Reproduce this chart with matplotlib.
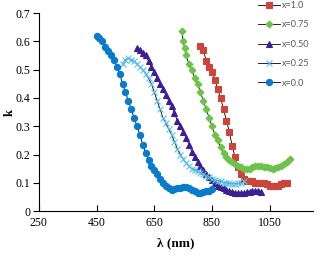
import matplotlib
matplotlib.use('Agg')
import matplotlib.pyplot as plt

# x = 0.0
wl_00 = [450, 460, 470, 480, 490, 500, 510, 520, 530, 540, 550, 560, 570, 580, 590,
         600, 610, 620, 630, 640, 650, 660, 670, 680, 690, 700, 710, 720, 730, 740,
         750, 760, 770, 780, 790, 800, 810, 820, 830, 840, 850]
k_00 = [0.62, 0.61, 0.60, 0.58, 0.565, 0.55, 0.535, 0.51, 0.485, 0.45, 0.42, 0.39, 0.36, 0.33, 0.30,
        0.27, 0.235, 0.205, 0.18, 0.16, 0.145, 0.13, 0.115, 0.10, 0.09, 0.08, 0.075, 0.078, 0.08, 0.082,
        0.085, 0.085, 0.083, 0.075, 0.07, 0.065, 0.065, 0.068, 0.07, 0.072, 0.078]

# x = 0.25
wl_25 = [540, 550, 560, 570, 580, 590, 600, 610, 620, 630, 640, 650, 660, 670, 680,
         690, 700, 710, 720, 730, 740, 750, 760, 770, 780, 790, 800, 810, 820, 830,
         840, 850, 860, 870, 880, 890, 900, 910, 920, 930, 940, 950, 960]
k_25 = [0.52, 0.535, 0.54, 0.535, 0.53, 0.52, 0.51, 0.50, 0.485, 0.47, 0.45, 0.42, 0.39, 0.36, 0.33,
        0.31, 0.29, 0.27, 0.245, 0.22, 0.20, 0.185, 0.17, 0.16, 0.15, 0.145, 0.14, 0.135, 0.13, 0.125,
        0.12, 0.115, 0.11, 0.108, 0.105, 0.10, 0.10, 0.098, 0.097, 0.097, 0.098, 0.10, 0.105]

# x = 0.50
wl_50 = [590, 600, 610, 620, 630, 640, 650, 660, 670, 680, 690, 700, 710, 720, 730,
         740, 750, 760, 770, 780, 790, 800, 810, 820, 830, 840, 850, 860, 870, 880,
         890, 900, 910, 920, 930, 940, 950, 960, 970, 980, 990, 1000, 1010, 1020]
k_50 = [0.575, 0.57, 0.56, 0.55, 0.53, 0.51, 0.49, 0.47, 0.45, 0.43, 0.41, 0.39, 0.37, 0.345, 0.32,
        0.30, 0.28, 0.26, 0.235, 0.21, 0.19, 0.175, 0.16, 0.145, 0.13, 0.12, 0.11, 0.10, 0.09, 0.085,
        0.08, 0.075, 0.07, 0.067, 0.065, 0.063, 0.063, 0.064, 0.066, 0.068, 0.07, 0.072, 0.07, 0.068]

# x = 0.75
wl_75 = [745, 750, 755, 760, 770, 780, 790, 800, 810, 820, 830, 840, 850, 860, 870,
         880, 890, 900, 910, 920, 930, 940, 950, 960, 970, 980, 990, 1000, 1010, 1020,
         1030, 1040, 1050, 1060, 1070, 1080, 1090, 1100, 1110, 1120]
k_75 = [0.635, 0.60, 0.575, 0.55, 0.52, 0.50, 0.47, 0.45, 0.42, 0.39, 0.36, 0.33, 0.30, 0.27, 0.25,
        0.225, 0.205, 0.19, 0.18, 0.172, 0.165, 0.16, 0.155, 0.15, 0.148, 0.15, 0.155, 0.158, 0.16, 0.16,
        0.157, 0.155, 0.153, 0.15, 0.152, 0.155, 0.16, 0.168, 0.175, 0.185]

# x = 1.0
wl_10 = [810, 820, 830, 840, 850, 860, 870, 880, 890, 900, 910, 920, 930, 940, 950,
         960, 970, 980, 990, 1000, 1010, 1020, 1030, 1040, 1050, 1060, 1070, 1080, 1090, 1100, 1110]
k_10 = [0.585, 0.57, 0.53, 0.51, 0.49, 0.465, 0.43, 0.40, 0.36, 0.32, 0.28, 0.23, 0.19, 0.155, 0.13,
        0.115, 0.108, 0.105, 0.105, 0.10, 0.10, 0.10, 0.098, 0.095, 0.09, 0.09, 0.088, 0.09, 0.095, 0.098, 0.10]

serif = 'Liberation Serif'

fig = plt.figure(figsize=(3.24, 2.6), dpi=100)
ax = fig.add_axes([0.12, 0.188, 0.846, 0.762])

series = [
    (wl_10, k_10, 's', 4.5, '#c9463d', 'x=1.0'),
    (wl_75, k_75, 'D', 3.5, '#6cc24a', 'x=0.75'),
    (wl_50, k_50, '^', 4.5, '#3a2090', 'x=0.50'),
    (wl_25, k_25, 'x', 4.0, '#5bc0e8', 'x=0.25'),
    (wl_00, k_00, 'o', 4.5, '#0a7bc9', 'x=0.0'),
]
lines = []
for wl, k, mk, ms, col, lab in series:
    l, = ax.plot(wl, k, '-', color='black', lw=0.6, marker=mk, ms=ms, mew=0.8,
                 mfc=col, mec=col, label=lab)
    lines.append(l)

ax.set_xlim(250, 1200)
ax.set_ylim(0, 0.7)
ax.set_xticks([250, 450, 650, 850, 1050])
ax.set_yticks([0, 0.1, 0.2, 0.3, 0.4, 0.5, 0.6, 0.7])
ax.set_yticklabels(['0', '0.1', '0.2', '0.3', '0.4', '0.5', '0.6', '0.7'])
ax.spines['top'].set_visible(False)
ax.spines['right'].set_visible(False)
ax.tick_params(axis='y', direction='out', length=4, width=0.8, labelsize=8.5, pad=2)
ax.tick_params(axis='x', direction='in', length=4, width=0.8, labelsize=8.5, pad=4)
for t in ax.get_xticklabels() + ax.get_yticklabels():
    t.set_fontfamily(serif)

ax.set_xlabel('λ (nm)', fontfamily=serif, fontweight='bold', fontsize=9.5, labelpad=6)
ax.set_ylabel('k', fontfamily=serif, fontweight='bold', fontsize=9, labelpad=0)

leg = fig.legend(handles=lines, loc='upper left', bbox_to_anchor=(0.785, 1.01),
                 frameon=False, handlelength=2.4, handletextpad=0.3,
                 labelspacing=1.15, borderaxespad=0, prop={'family': 'Lato', 'size': 6.5})
for t in leg.get_texts():
    t.set_color('#595959')

fig.savefig('out.png', dpi=100)
